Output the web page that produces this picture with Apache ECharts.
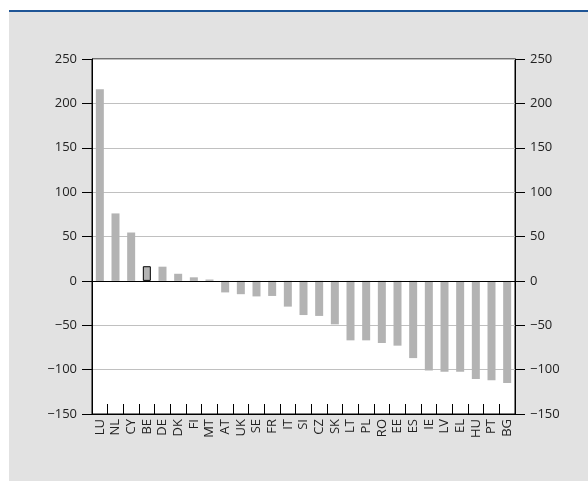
<!DOCTYPE html>
<html><head><meta charset="utf-8">
<script src="https://cdn.jsdelivr.net/npm/echarts@6/dist/echarts.min.js"></script>
<style>html,body{margin:0;padding:0;background:#fff;}#frame{position:absolute;left:9px;top:12px;width:579px;height:469px;background:#e2e2e2;}#bar{position:absolute;left:9px;top:10px;width:579px;height:2px;background:#1f5596;}#plotbg{position:absolute;left:92px;top:59px;width:423px;height:355px;background:#fff;}#c{position:absolute;left:0;top:0;width:588px;height:481px;}</style>
</head><body>
<div id="frame"></div><div id="bar"></div><div id="plotbg"></div>
<div id="c"></div>
<script>
const categories = ["LU","NL","CY","BE","DE","DK","FI","MT","AT","UK","SE","FR","IT","SI","CZ","SK","LT","PL","RO","EE","ES","IE","LV","EL","HU","PT","BG"];
const values = [216,76,54.5,16.5,16,8,4,1.5,-13,-15,-17.5,-17,-29,-38.5,-39.5,-49,-67,-67,-70,-73,-87,-101,-102.5,-102.5,-110.5,-112,-115];
const highlight = "BE";
const yTicks = {min:-150, max:250, interval:50};

const chart = echarts.init(document.getElementById('c'));
const fmt = v => String(v).replace('-', '\u2212');
const yAxisBase = {
  type:'value', min:yTicks.min, max:yTicks.max, interval:yTicks.interval,
  axisLine:{show:true, lineStyle:{color:'#000', width:1}},
  axisTick:{show:true, length:10, lineStyle:{color:'#000'}},
  axisLabel:{color:'#222', fontSize:13, fontFamily:'Open Sans', margin:15, formatter:fmt},
};
chart.setOption({
  animation:false,
  grid:{left:92, right:73, top:59, bottom:67, show:true, backgroundColor:'transparent', borderColor:'#000', borderWidth:1},
  xAxis:[
    {type:'category', data:categories, boundaryGap:true, position:'bottom',
    axisLine:{show:true, onZero:false, lineStyle:{color:'#000'}},
    axisTick:{show:false},
    axisLabel:{show:true, rotate:90, interval:0, color:'#222', fontSize:13, fontFamily:'Open Sans', margin:5},
    splitLine:{show:false}},
    {type:'value', position:'bottom', min:0, max:categories.length, interval:1,
    axisLine:{show:false, onZero:false},
    axisTick:{show:true, inside:true, length:10, lineStyle:{color:'#000', width:1}},
    axisLabel:{show:false}, splitLine:{show:false}}
  ],
  yAxis:[
    Object.assign({}, yAxisBase, {position:'left', splitLine:{show:true, lineStyle:{color:'#c0c0c0', width:1}}}),
    Object.assign({}, yAxisBase, {position:'right', splitLine:{show:false}})
  ],
  series:[{
    type:'bar', xAxisIndex:0, yAxisIndex:0, barWidth:8,
    data: values.map((v,i)=> categories[i]===highlight
      ? {value:v, itemStyle:{color:'#b3b3b3', borderColor:'#000', borderWidth:1}}
      : {value:v, itemStyle:{color:'#b3b3b3'}}),
    markLine:{silent:true, symbol:'none', label:{show:false},
      lineStyle:{color:'#000', width:1, type:'solid'}, data:[{yAxis:0}]}
  }]
});
</script>
</body></html>
